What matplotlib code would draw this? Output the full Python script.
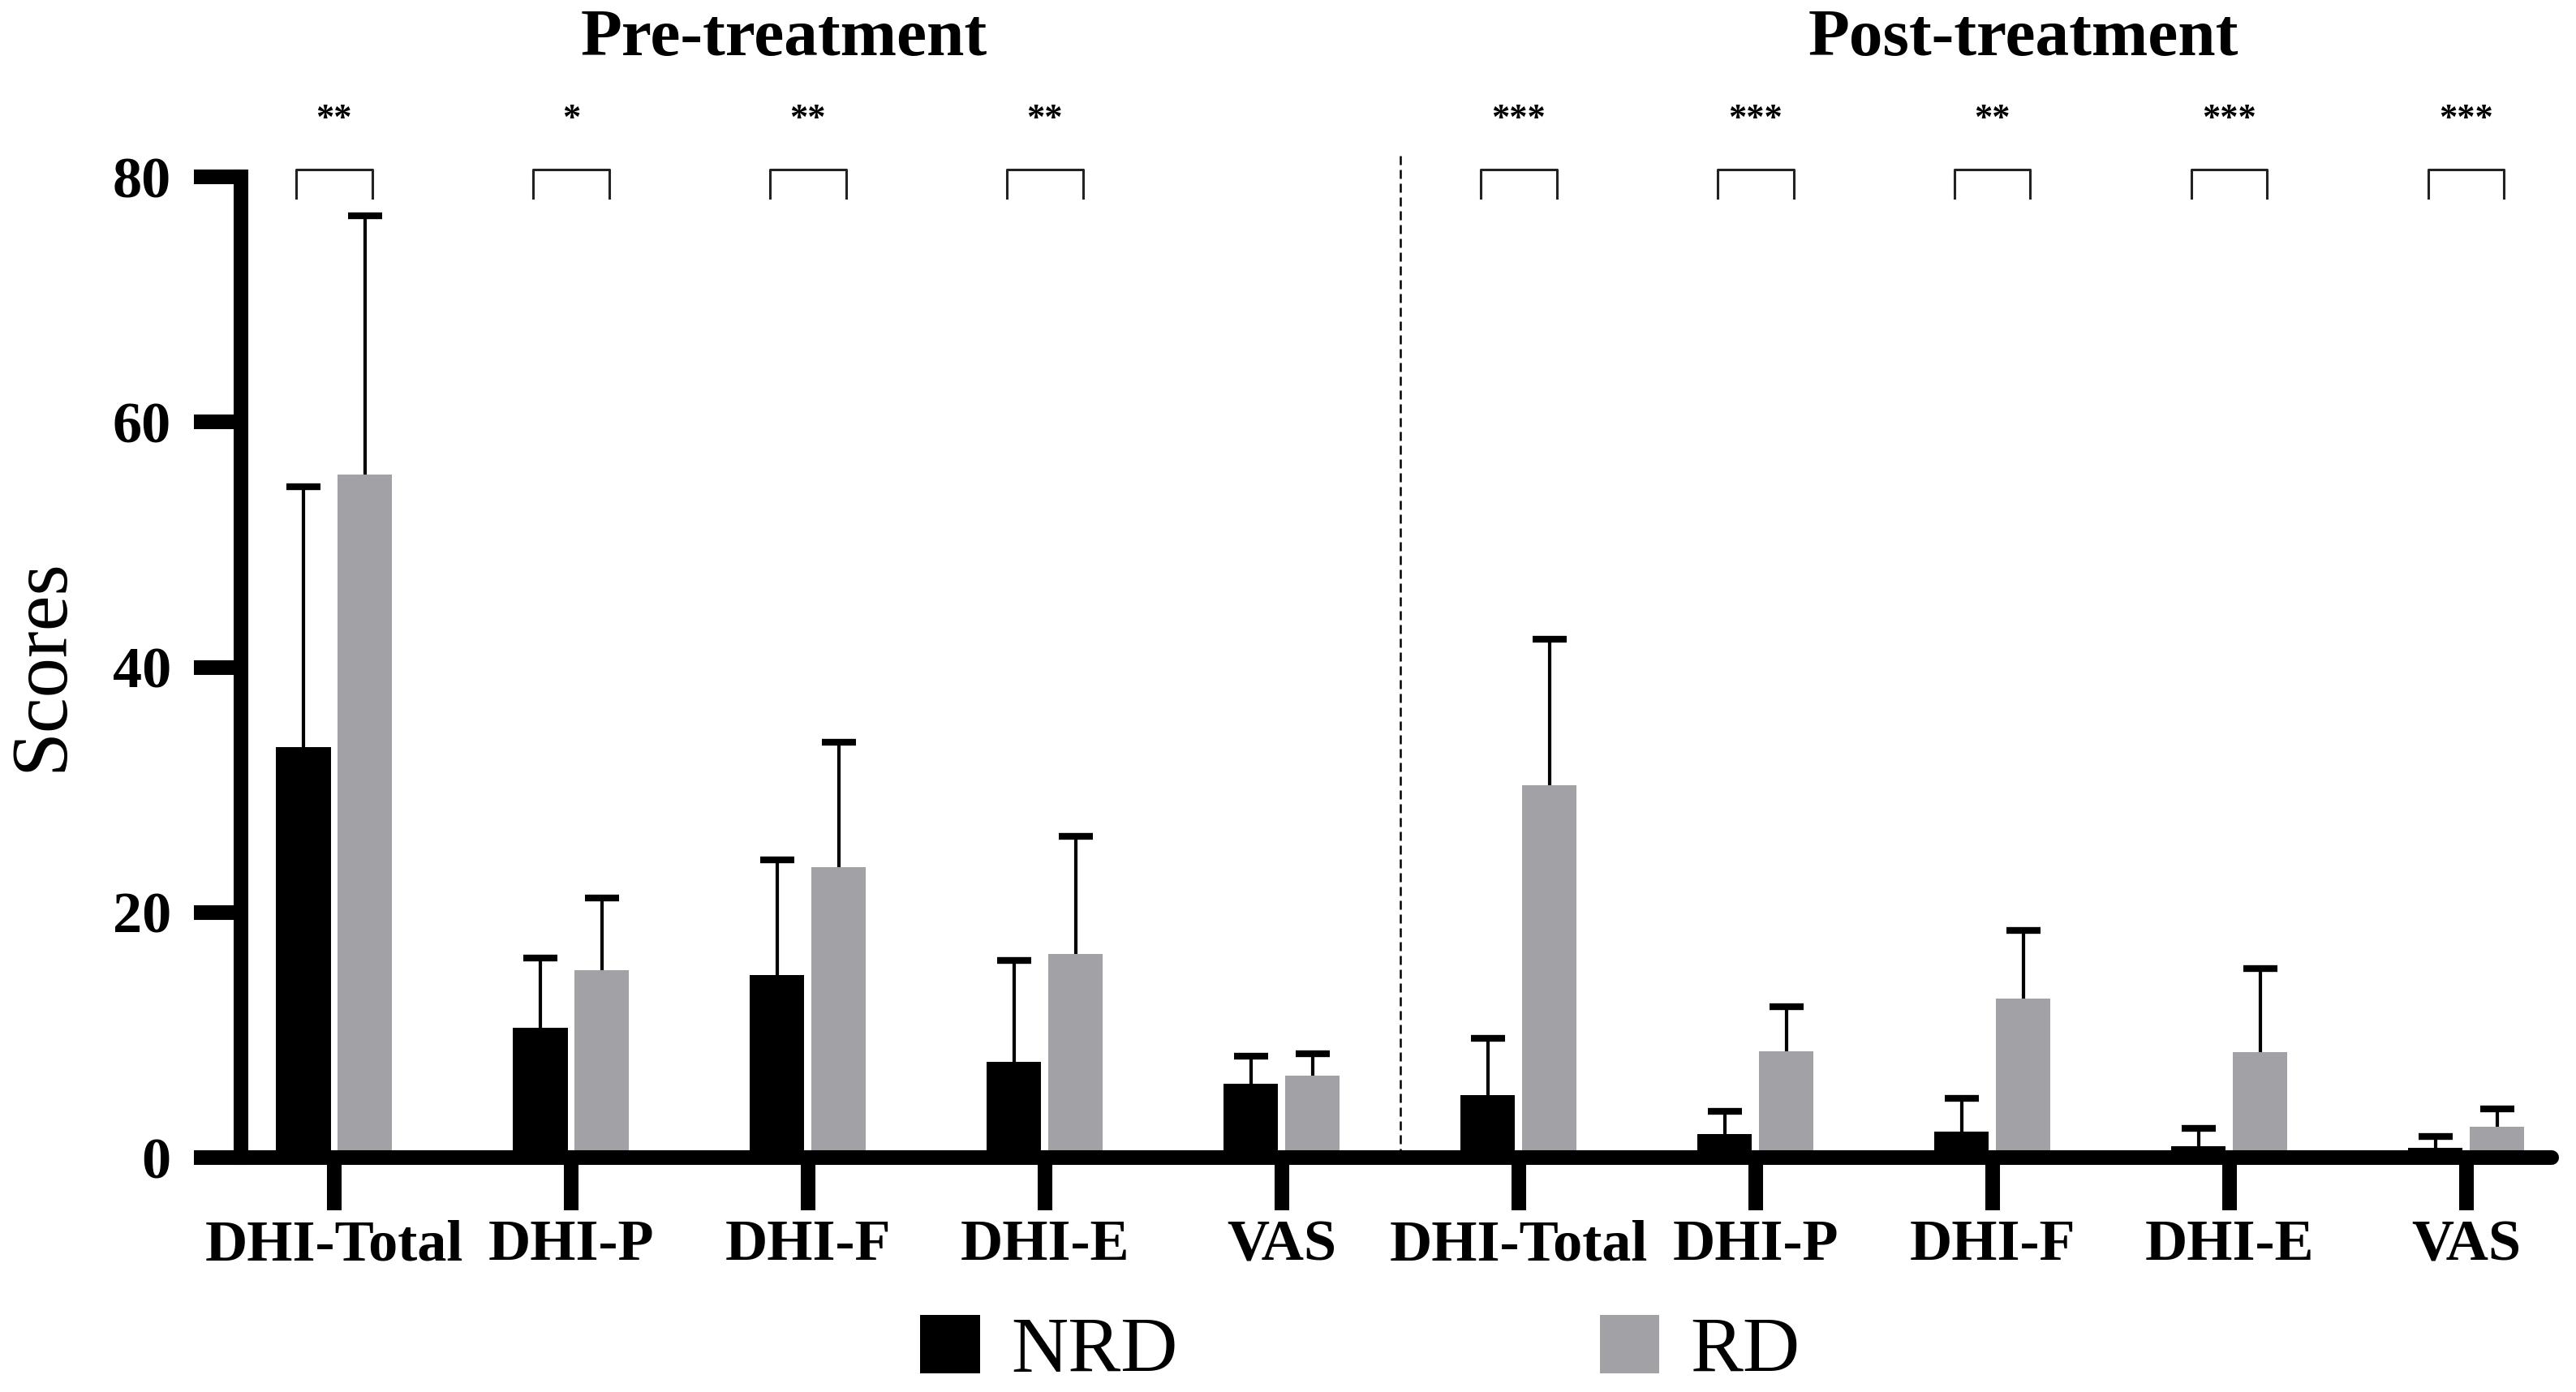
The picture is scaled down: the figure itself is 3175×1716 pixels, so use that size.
import numpy as np
import matplotlib.pyplot as plt

plt.rcParams['font.family'] = ['Liberation Serif', 'DejaVu Serif']

# ---- data ----
categories = ["DHI-Total", "DHI-P", "DHI-F", "DHI-E", "VAS",
              "DHI-Total", "DHI-P", "DHI-F", "DHI-E", "VAS"]
nrd_mean = [33.5, 10.6, 14.9, 7.8, 6.0, 5.1, 1.9, 2.1, 0.9, 0.8]
nrd_sd = [21.2, 5.7, 9.4, 8.3, 2.3, 4.6, 1.9, 2.7, 1.5, 0.9]
rd_mean = [55.7, 15.3, 23.7, 16.6, 6.7, 30.4, 8.7, 13.0, 8.6, 2.5]
rd_sd = [21.1, 5.9, 10.2, 9.6, 1.8, 11.9, 3.6, 5.5, 6.8, 1.5]
stars = ["**", "*", "**", "**", "", "***", "***", "**", "***", "***"]
group_titles = ["Pre-treatment", "Post-treatment"]
group_title_x = [1.9, 7.13]
series_names = ["NRD", "RD"]

NRD_COLOR = "#000000"
RD_COLOR = "#A2A2A6"
BAR_W = 0.23
OFF = 0.13
AX_LW = 6.5

fig = plt.figure(figsize=(15.875, 8.58), dpi=200)
ax = fig.add_axes([0.0935, 0.1684, 0.897, 0.7045])

x = np.arange(len(categories))
b1 = ax.bar(x - OFF, nrd_mean, BAR_W, color=NRD_COLOR, zorder=2)
b2 = ax.bar(x + OFF, rd_mean, BAR_W, color=RD_COLOR, zorder=2)

# upward-only error bars
for xs, m, sd in [(x - OFF, nrd_mean, nrd_sd), (x + OFF, rd_mean, rd_sd)]:
    eb = ax.errorbar(xs, m, yerr=[np.zeros(len(m)), sd], fmt='none',
                     ecolor='black', elinewidth=1.5, capsize=7.7,
                     capthick=3, zorder=3)
    for cl in eb[1]:
        if np.allclose(cl.get_ydata(), m):
            cl.set_visible(False)

# significance brackets and stars
for p, s in zip(x, stars):
    if not s:
        continue
    ax.plot([p - 0.16, p - 0.16, p + 0.16, p + 0.16], [78.3, 80.6, 80.6, 78.3],
            color='#222222', lw=1.1, clip_on=False, zorder=3)
    ax.text(p, 84.0, s, ha='center', va='baseline', fontsize=16,
            fontweight='bold')

# group titles
for gx, t in zip(group_title_x, group_titles):
    ax.text(gx, 89.9, t, ha='center', va='baseline', fontsize=30,
            fontweight='bold')

# dashed separator
ax.plot([4.5, 4.5], [0, 81.8], color='black', lw=0.9, ls=(0, (4.4, 2.4)),
        clip_on=False, zorder=1)

ax.set_xlim(-0.394, 9.36)
ax.set_ylim(0, 80)
ax.set_yticks([0, 20, 40, 60, 80])
ax.set_xticks(x)
ax.set_xticklabels(categories)

for sp in ['top', 'right']:
    ax.spines[sp].set_visible(False)
ax.spines['left'].set_linewidth(AX_LW)
ax.spines['left'].set_capstyle('projecting')
ax.spines['bottom'].set_linewidth(AX_LW)
ax.spines['bottom'].set_capstyle('round')
ax.spines['bottom'].set_zorder(4)

ax.tick_params(axis='y', length=21, width=AX_LW, direction='out', pad=10,
               labelsize=26)
ax.tick_params(axis='x', length=23.4, width=AX_LW, direction='out', pad=4,
               labelsize=26)
for lab in ax.get_xticklabels() + ax.get_yticklabels():
    lab.set_fontweight('bold')

fig.text(52 / 3175, 1 - 820 / 1716, "Scores", rotation=90, fontsize=35.5,
         ha='center', va='center')

fig.legend([b1, b2], series_names, loc='center', bbox_to_anchor=(0.528, 0.029),
           ncol=2, frameon=False, fontsize=35, handlelength=0.76,
           handleheight=0.77, handletextpad=0.39, columnspacing=5.35,
           borderpad=0, borderaxespad=0)

fig.savefig('out.png', dpi=200)
